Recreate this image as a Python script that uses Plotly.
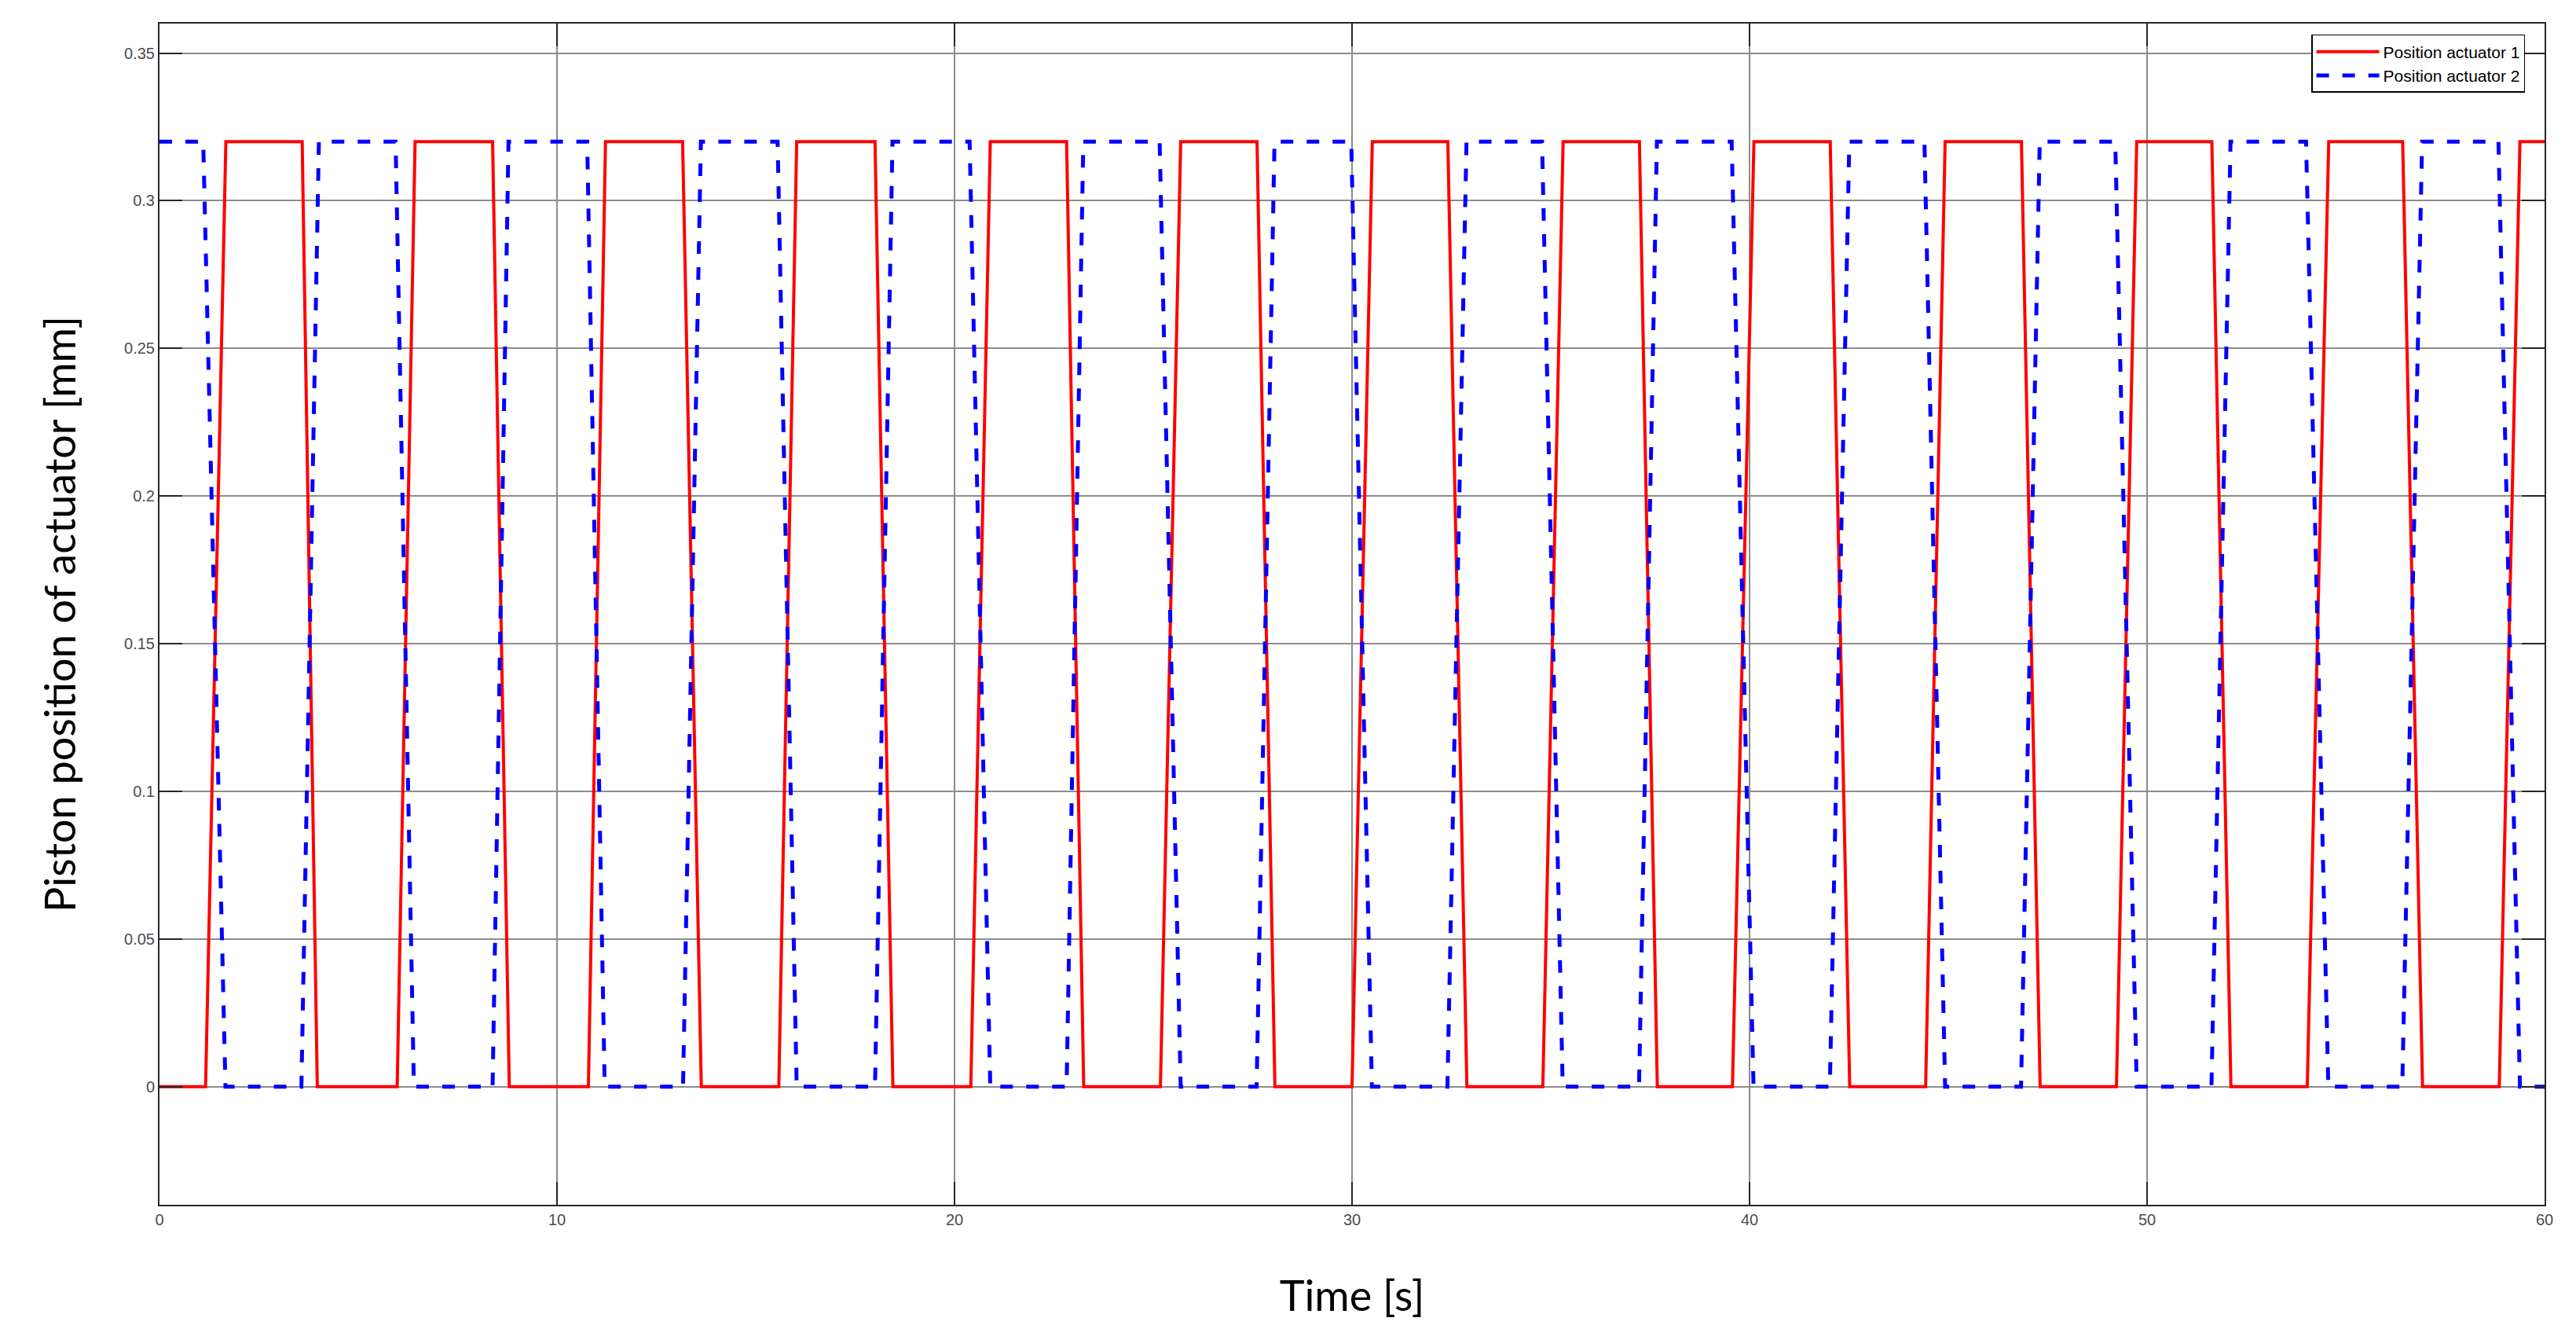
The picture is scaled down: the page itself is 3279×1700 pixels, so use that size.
import plotly.graph_objects as go

# corner times [s]
red_rise_start = [1.16, 5.98, 10.79, 15.58, 20.41, 25.18, 30.00, 34.80, 39.57, 44.43, 49.23, 54.03, 58.86]
red_rise_end = [1.67, 6.43, 11.22, 16.03, 20.90, 25.69, 30.51, 35.31, 40.11, 44.92, 49.74, 54.57, 59.38]
red_fall_start = [3.59, 8.38, 13.16, 18.00, 22.82, 27.61, 32.41, 37.23, 42.03, 46.84, 51.63, 56.43]
red_fall_end = [3.97, 8.80, 13.63, 18.45, 23.25, 28.06, 32.89, 37.68, 42.52, 47.31, 52.11, 56.93]

blue_fall_start = [1.10, 5.94, 10.76, 15.55, 20.38, 25.16, 29.98, 34.78, 39.55, 44.40, 49.20, 54.00, 58.84]
blue_fall_end = [1.66, 6.40, 11.20, 16.03, 20.90, 25.69, 30.50, 35.30, 40.10, 44.92, 49.74, 54.56, 59.38]
blue_rise_start = [3.57, 8.38, 13.17, 18.00, 22.82, 27.60, 32.40, 37.22, 42.02, 46.83, 51.62, 56.42]
blue_rise_end = [4.01, 8.78, 13.62, 18.44, 23.24, 28.05, 32.88, 37.67, 42.51, 47.30, 52.10, 56.92]

t_end = 60.0
stroke = 0.32  # plateau [mm]

# 红线：执行器 1
red_t, red_y = [0.0], [0.0]
for i in range(len(red_rise_start)):
    red_t += [red_rise_start[i], red_rise_end[i]]
    red_y += [0.0, stroke]
    if i < len(red_fall_start):
        red_t += [red_fall_start[i], red_fall_end[i]]
        red_y += [stroke, 0.0]
red_t.append(t_end)
red_y.append(stroke)

# 蓝线：执行器 2
blue_t, blue_y = [0.0], [stroke]
for i in range(len(blue_fall_start)):
    blue_t += [blue_fall_start[i], blue_fall_end[i]]
    blue_y += [stroke, 0.0]
    if i < len(blue_rise_start):
        blue_t += [blue_rise_start[i], blue_rise_end[i]]
        blue_y += [0.0, stroke]
blue_t.append(t_end)
blue_y.append(0.0)

fig = go.Figure()
fig.add_trace(go.Scatter(x=red_t, y=red_y, mode='lines', name='Position actuator 1',
                         line={'color': '#ff0000', 'width': 4}))
fig.add_trace(go.Scatter(x=blue_t, y=blue_y, mode='lines', name='Position actuator 2',
                         line={'color': '#0000ff', 'width': 5, 'dash': '16px,17px'}))

axis_style = dict(
    showline=True, linecolor='#262626', linewidth=2, mirror='ticks',
    ticks='inside', ticklen=29, tickwidth=1.5, tickcolor='#262626',
    showgrid=True, gridcolor='#8c8c8c', gridwidth=1.5, zeroline=False,
    tickfont={'family': 'Liberation Sans, Arial', 'size': 20, 'color': '#4d4d4d'},
)
fig.update_xaxes(range=[0, 60], dtick=10, tick0=0, **axis_style,
                 title={'text': 'Time [s]', 'font': {'family': 'Lato', 'size': 54, 'color': 'black'}, 'standoff': 68})
fig.update_yaxes(range=[-0.04, 0.36], dtick=0.05, tick0=0, **axis_style,
                 title={'text': 'Piston position of actuator [mm]', 'font': {'family': 'Lato', 'size': 54, 'color': 'black'}, 'standoff': 44})

# 页面 body 自带 8px 边距，画布缩小以免出现滚动条
fig.update_layout(
    width=3263, height=1684,
    margin={'l': 195, 'r': 32, 't': 22, 'b': 159},
    plot_bgcolor='white', paper_bgcolor='white',
    legend={'x': 0.9918, 'y': 0.9907, 'xanchor': 'right', 'yanchor': 'top',
            'bgcolor': 'white', 'bordercolor': 'black', 'borderwidth': 1.5,
            'font': {'family': 'Liberation Sans, Arial', 'size': 21, 'color': 'black'},
            'itemwidth': 80, 'tracegroupgap': 0},
)

fig.write_html("out.html")
